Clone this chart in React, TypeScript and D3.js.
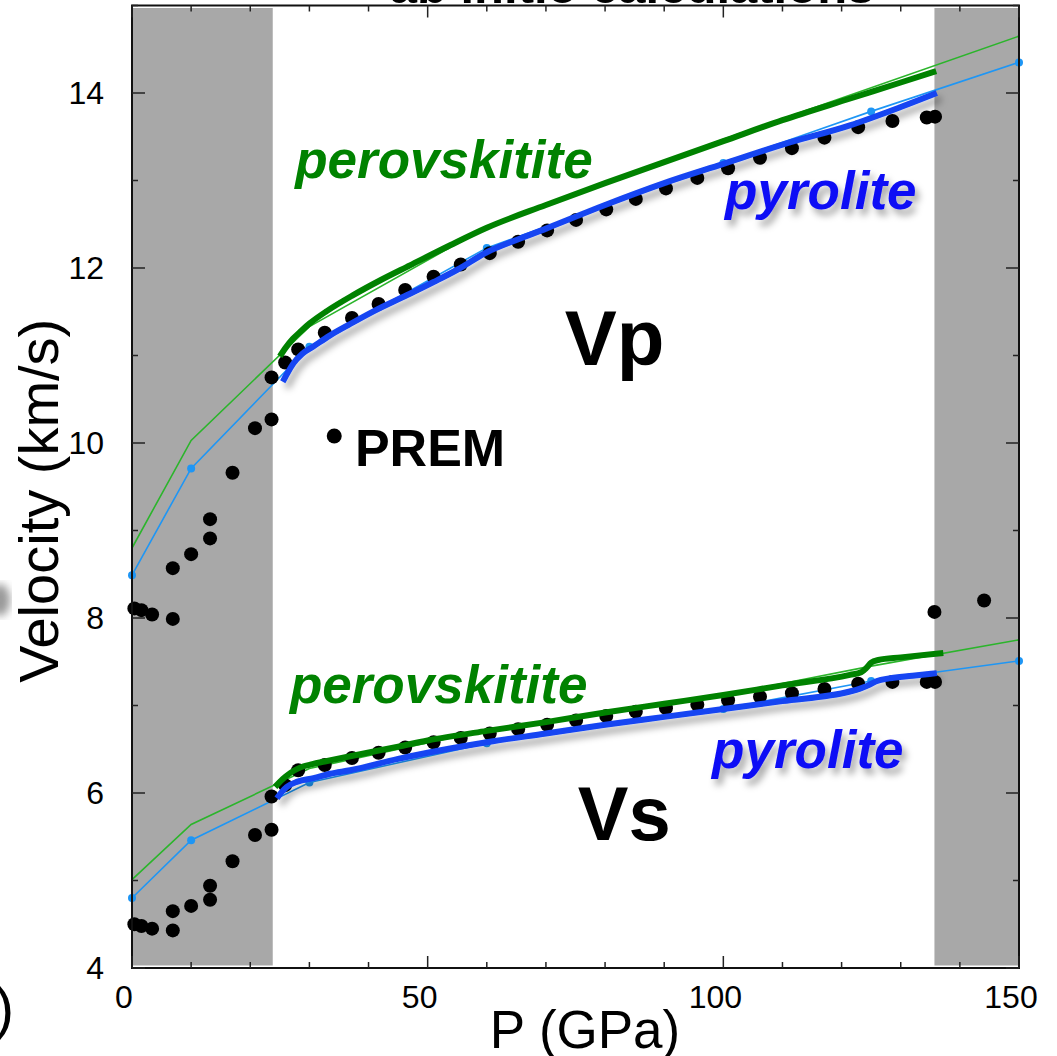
import React from "react";
import * as d3 from "d3";

// PREM reference points [P (GPa), velocity (km/s)]
const premVp: [number, number][] = [
  [0.4, 8.11], [1.6, 8.09], [3.4, 8.04], [6.9, 7.99], [6.9, 8.57], [10.0, 8.73],
  [13.2, 8.91], [13.2, 9.13], [17.0, 9.66], [20.8, 10.17], [23.6, 10.27], [23.6, 10.75],
  [25.9, 10.92], [28.1, 11.07], [32.6, 11.26], [37.2, 11.43], [41.7, 11.59], [46.2, 11.75],
  [51.0, 11.9], [55.6, 12.04], [60.5, 12.17], [65.3, 12.3], [70.2, 12.43], [75.1, 12.55],
  [80.2, 12.67], [85.2, 12.79], [90.3, 12.91], [95.6, 13.03], [100.8, 13.14], [106.2, 13.26],
  [111.6, 13.37], [117.1, 13.49], [122.8, 13.61], [128.6, 13.68], [134.4, 13.72], [135.8, 13.73],
  [135.7, 8.07], [144.1, 8.2],
];
const premVs: [number, number][] = [
  [0.4, 4.5], [1.6, 4.48], [3.4, 4.45], [6.9, 4.43], [6.9, 4.65], [10.0, 4.71],
  [13.2, 4.78], [13.2, 4.94], [17.0, 5.22], [20.8, 5.52], [23.6, 5.58], [23.6, 5.96],
  [25.9, 6.09], [28.1, 6.26], [32.6, 6.32], [37.2, 6.4], [41.7, 6.46], [46.2, 6.52],
  [51.0, 6.58], [55.6, 6.63], [60.5, 6.68], [65.3, 6.73], [70.2, 6.78], [75.1, 6.83],
  [80.2, 6.88], [85.2, 6.93], [90.3, 6.97], [95.6, 7.01], [100.8, 7.06], [106.2, 7.1],
  [111.6, 7.14], [117.1, 7.19], [122.8, 7.25], [128.6, 7.27], [134.4, 7.27], [135.8, 7.27],
];

// coarse calculations (thin lines)
const pyroVpThin: [number, number][] = [[0, 8.49], [10, 9.71], [30, 11.1], [60, 12.23], [100, 13.2], [125, 13.79], [150, 14.35]];
const perovVpThin: [number, number][] = [[0, 8.8], [10, 10.03], [30, 11.33], [60, 12.47], [100, 13.47], [125, 14.06], [150, 14.65]];
const pyroVsThin: [number, number][] = [[0, 4.8], [10, 5.46], [30, 6.12], [60, 6.57], [100, 6.96], [125, 7.28], [150, 7.51]];
const perovVsThin: [number, number][] = [[0, 5.01], [10, 5.64], [30, 6.28], [60, 6.72], [100, 7.12], [125, 7.45], [150, 7.75]];

// lower mantle calculations (thick lines)
const pyroVp: [number, number][] = [
  [25.5, 10.7], [26.3, 10.8], [27.3, 10.91], [28.8, 11.02], [30.6, 11.1], [33.5, 11.23],
  [36.9, 11.36], [41, 11.51], [46.2, 11.68], [51, 11.84], [55, 11.98], [60, 12.18],
  [65, 12.32], [70, 12.45], [80, 12.72], [90, 12.97], [100, 13.19], [110, 13.41],
  [121.4, 13.63], [130, 13.84], [136.1, 14.0],
];
const perovVp: [number, number][] = [
  [25.0, 10.99], [26.0, 11.09], [27.2, 11.19], [28.6, 11.28], [30.1, 11.37], [33, 11.51],
  [37.4, 11.69], [42, 11.86], [47, 12.03], [53.8, 12.26], [60, 12.46], [70, 12.72],
  [80, 12.97], [90, 13.21], [100, 13.45], [110, 13.69], [121.6, 13.94], [130, 14.12], [136, 14.25],
];
const pyroVs: [number, number][] = [
  [24.5, 5.94], [25.3, 6.01], [26.2, 6.07], [28, 6.13], [30.7, 6.17], [33.5, 6.22],
  [36.9, 6.26], [45, 6.39], [50, 6.46], [60, 6.58], [70, 6.68], [80, 6.78], [90, 6.87],
  [100, 6.96], [110, 7.05], [121.4, 7.16], [123, 7.19], [124.5, 7.23], [126, 7.28],
  [128, 7.31], [132, 7.34], [136.1, 7.37],
];
const perovVs: [number, number][] = [
  [24.2, 6.07], [25.5, 6.16], [26.8, 6.23], [28.4, 6.29], [30.5, 6.33], [32.6, 6.36],
  [36.9, 6.42], [45, 6.53], [50, 6.6], [60, 6.71], [70, 6.81], [80, 6.92], [90, 7.02],
  [100, 7.12], [110, 7.23], [121.4, 7.35], [123.3, 7.38], [124.2, 7.43], [125, 7.49],
  [126.2, 7.52], [130, 7.55], [137.2, 7.6],
];

// shaded pressure ranges (transition zone/upper mantle, outer core)
const shaded: [number, number][] = [[0, 23.8], [135.7, 150]];

const xTicks = d3.range(0, 151, 10);
const xLabels = [0, 50, 100, 150];
const yTicks = d3.range(4, 16, 1);
const yLabels = [4, 6, 8, 10, 12, 14];

const W = 1057;
const H = 1056;
const GREEN = "#008200";
const GREEN_THIN = "#2bb52b";
const BLUE = "#1444f2";
const BLUE_THIN = "#1e96f5";

export default function App() {
  const x = d3.scaleLinear().domain([0, 150]).range([132, 1019]);
  const y = d3.scaleLinear().domain([4, 15]).range([968, 5.5]);

  const thin = d3.line<[number, number]>().x((d) => x(d[0])).y((d) => y(d[1]));
  const thick = d3
    .line<[number, number]>()
    .x((d) => x(d[0]))
    .y((d) => y(d[1]))
    .curve(d3.curveMonotoneX);

  const [x0, x1] = x.range();
  const [y0, y1] = y.range();
  const font = "'Liberation Sans', Arial, Helvetica, sans-serif";

  return (
    <svg
      width={W}
      height={H}
      viewBox={`0 0 ${W} ${H}`}
      style={{ position: "absolute", left: 0, top: 0, background: "#fff" }}
      fontFamily={font}
    >
      <defs>
        <filter id="shadow" x="-10%" y="-20%" width="130%" height="160%">
          <feDropShadow dx="4" dy="6" stdDeviation="3.5" floodColor="#000" floodOpacity="0.35" />
        </filter>
        <filter id="blur">
          <feGaussianBlur stdDeviation="4" />
        </filter>
      </defs>

      {/* clipped bits of the surrounding figure */}
      <text x={632} y={3} textAnchor="middle" fontSize={49} fontWeight="bold" fill="#000">
        ab initio calculations
      </text>
      <text x={14} y={1028} textAnchor="end" fontSize={58} fill="#000">
        )
      </text>
      <ellipse cx={0} cy={600} rx={10} ry={16} fill="#999" filter="url(#blur)" />

      {/* gray regions */}
      {shaded.map(([a, b], i) => (
        <rect key={i} x={x(a)} y={y1 + 2.5} width={x(b) - x(a)} height={y0 - y1 - 5} fill="#a8a8a8" />
      ))}

      {/* thin lines */}
      <path d={thin(perovVpThin)!} fill="none" stroke={GREEN_THIN} strokeWidth={1.6} />
      <path d={thin(pyroVpThin)!} fill="none" stroke={BLUE_THIN} strokeWidth={1.6} />
      <path d={thin(perovVsThin)!} fill="none" stroke={GREEN_THIN} strokeWidth={1.6} />
      <path d={thin(pyroVsThin)!} fill="none" stroke={BLUE_THIN} strokeWidth={1.6} />
      {[...pyroVpThin, ...pyroVsThin].map((d, i) => (
        <circle key={i} cx={x(d[0])} cy={y(d[1])} r={4} fill={BLUE_THIN} />
      ))}

      {/* PREM */}
      {[...premVp, ...premVs].map((d, i) => (
        <circle key={i} cx={x(d[0])} cy={y(d[1])} r={7} fill="#000" />
      ))}

      {/* thick lines */}
      <path d={thick(perovVp)!} fill="none" stroke={GREEN} strokeWidth={6} />
      <path d={thick(perovVs)!} fill="none" stroke={GREEN} strokeWidth={6} />
      <g filter="url(#shadow)">
        <path d={thick(pyroVp)!} fill="none" stroke={BLUE} strokeWidth={6} />
        <path d={thick(pyroVs)!} fill="none" stroke={BLUE} strokeWidth={6} />
      </g>

      {/* frame */}
      <rect x={x0} y={y1} width={x1 - x0} height={y0 - y1} fill="none" stroke="#111" strokeWidth={2} />
      {xTicks.map((t) => {
        const len = xLabels.includes(t) ? 12 : 6;
        return (
          <g key={t} stroke="#222" strokeWidth={1.5}>
            <line x1={x(t)} x2={x(t)} y1={y0} y2={y0 - len} />
            <line x1={x(t)} x2={x(t)} y1={y1} y2={y1 + len} />
          </g>
        );
      })}
      {yTicks.map((t) => {
        const len = yLabels.includes(t) ? 13 : 6;
        return (
          <g key={t} stroke="#222" strokeWidth={1.5}>
            <line x1={x0} x2={x0 + len} y1={y(t)} y2={y(t)} />
            <line x1={x1} x2={x1 - len} y1={y(t)} y2={y(t)} />
          </g>
        );
      })}
      {xLabels.map((t) => (
        <text key={t} x={x(t) - 8} y={1008} textAnchor="middle" fontSize={32} fill="#000">
          {t}
        </text>
      ))}
      {yLabels.map((t) => (
        <text key={t} x={104} y={y(t) + 11} textAnchor="end" fontSize={32} fill="#000">
          {t}
        </text>
      ))}
      <text x={585} y={1048} textAnchor="middle" fontSize={53} fill="#000">
        P (GPa)
      </text>
      <text
        transform={`translate(58, ${(y0 + y1) / 2 + 14}) rotate(-90)`}
        textAnchor="middle"
        fontSize={56}
        fill="#000"
      >
        Velocity (km/s)
      </text>

      {/* annotations */}
      <g fontWeight="bold" fontStyle="italic" fontSize={53}>
        <text x={x(27.6)} y={y(13.03)} fill={GREEN}>perovskitite</text>
        <text x={x(26.7)} y={y(7.03)} fill={GREEN}>perovskitite</text>
        <text x={x(100.3)} y={y(12.67)} fill="#0a0af5" filter="url(#shadow)">pyrolite</text>
        <text x={x(98.1)} y={y(6.29)} fill="#0a0af5" filter="url(#shadow)">pyrolite</text>
      </g>
      <g fontWeight="bold" fill="#000">
        <text x={x(73.2)} y={y(10.89)} fontSize={78}>Vp</text>
        <text x={x(75.4)} y={y(5.46)} fontSize={76}>Vs</text>
        <circle cx={x(34.2)} cy={y(10.08)} r={7.5} fill="#000" />
        <text x={x(37.7)} y={y(9.74)} fontSize={52}>PREM</text>
      </g>
    </svg>
  );
}
